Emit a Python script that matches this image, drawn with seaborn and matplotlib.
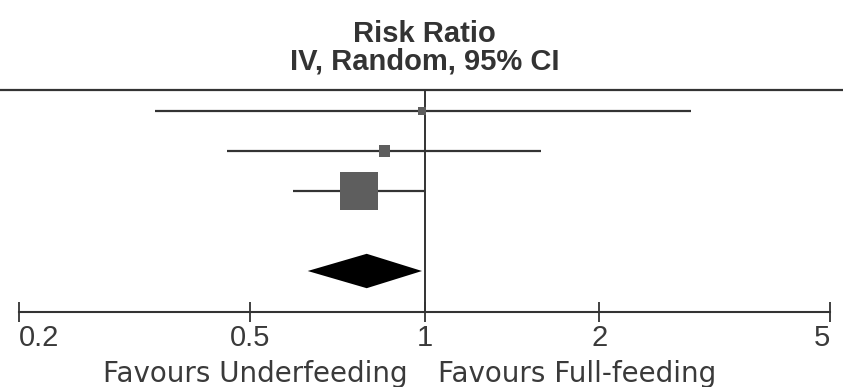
import numpy as np
import pandas as pd
import matplotlib
matplotlib.use("Agg")
import matplotlib.pyplot as plt
import seaborn as sns
from matplotlib.ticker import FixedLocator, NullLocator, FixedFormatter

# ---- data ----
study_rows = [0, 1, 2]
rr_est = [0.99, 0.853, 0.771]
rr_low = [0.343, 0.456, 0.593]
rr_high = [2.88, 1.59, 1.00]
weights = [3.0, 7.5, 89.5]

pooled_row = 4
pooled_est = 0.795
pooled_low = 0.629
pooled_high = 0.99

tick_values = [0.2, 0.5, 1, 2, 5]
tick_labels = ["0.2", "0.5", "1", "2", "5"]
title_lines = ["Risk Ratio", "IV, Random, 95% CI"]
favours_left = "Favours Underfeeding"
favours_right = "Favours Full-feeding"

sns.set_style("white")
plt.rcParams['font.family'] = ['Liberation Sans', 'DejaVu Sans']

W, H = 843, 387
fig = plt.figure(figsize=(W / 100, H / 100), dpi=100)
x0, x1 = 19, 830
ax = fig.add_axes([x0 / W, 0, (x1 - x0) / W, 1])
ax.set_xscale("log")
ax.set_xlim(0.2, 5)
# row i -> pixel 111 + 40*i
ax.set_ylim((H - 111) / 40, -111 / 40)

line_col = "#333333"
sq_col = "#5e5e5e"

df = pd.DataFrame({"row": study_rows, "est": rr_est, "lo": rr_low,
                   "hi": rr_high, "w": weights})

# confidence interval lines
ax.hlines(df["row"], df["lo"], df["hi"], color=line_col, lw=1.6, zorder=2)

# weighted squares
sns.scatterplot(data=df, x="est", y="row", size="w", sizes=(26, 740),
                marker="s", color=sq_col, linewidth=0, legend=False,
                ax=ax, zorder=3)

# pooled diamond
dh = 0.43
ax.fill([pooled_low, pooled_est, pooled_high, pooled_est],
        [pooled_row, pooled_row - dh, pooled_row, pooled_row + dh],
        color="black", lw=0, zorder=3)

# top rule across figure
top_row = -0.525
axis_row = 5.025
ax.axhline(top_row, xmin=-x0 / (x1 - x0), xmax=1 + (W - x1) / (x1 - x0),
           color=line_col, lw=1.6, clip_on=False)
# line of no effect
ax.vlines(1, top_row, axis_row, color=line_col, lw=1.4, zorder=1)

# x axis
for s in ["top", "left", "right"]:
    ax.spines[s].set_visible(False)
ax.spines["bottom"].set_position(("data", axis_row))
ax.spines["bottom"].set_color(line_col)
ax.spines["bottom"].set_linewidth(1.5)
ax.xaxis.set_major_locator(FixedLocator(tick_values))
ax.xaxis.set_major_formatter(FixedFormatter(tick_labels))
ax.xaxis.set_minor_locator(NullLocator())
ax.tick_params(axis="x", which="major", bottom=True, direction="inout",
               length=15, width=1.3, color=line_col, labelsize=21,
               labelcolor="#3a3a3a", pad=1.5)
ax.set_yticks([])
ax.set_xlabel("")
ax.set_ylabel("")
labels = ax.get_xticklabels()
labels[0].set_ha("left")
labels[-1].set_ha("right")

# title lines
ax.text(1, -1.725, title_lines[0], ha="center", va="baseline",
        fontsize=21, fontweight="bold", color="#333333")
ax.text(1, -1.025, title_lines[1], ha="center", va="baseline",
        fontsize=21, fontweight="bold", color="#333333")

# favours labels
fav_font = ['DejaVu Sans']
ax.annotate(favours_left, xy=(1, 6.775), xytext=(-17 * 0.72, 0),
            textcoords="offset points", ha="right", va="baseline",
            fontsize=20, color="#3a3a3a", family=fav_font)
ax.annotate(favours_right, xy=(1, 6.775), xytext=(13 * 0.72, 0),
            textcoords="offset points", ha="left", va="baseline",
            fontsize=20, color="#3a3a3a", family=fav_font)

fig.savefig("out.png", dpi=100)
